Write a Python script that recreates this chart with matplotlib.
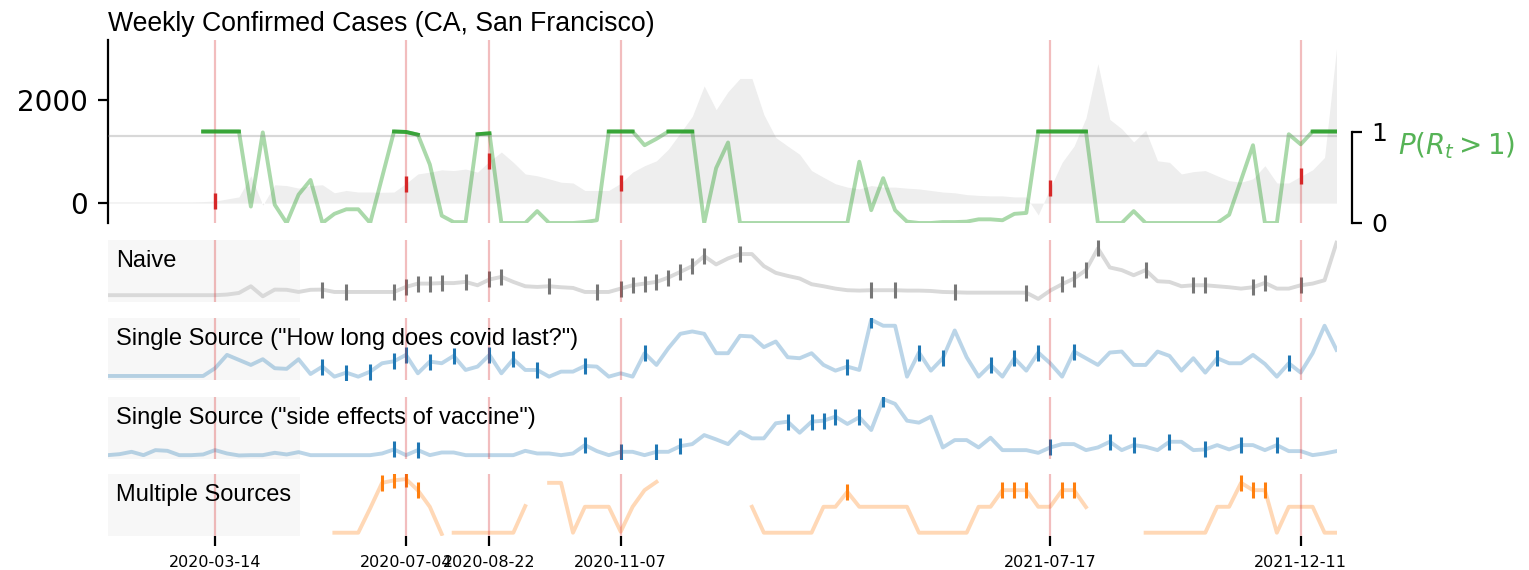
import numpy as np
import pandas as pd
import matplotlib
matplotlib.use("Agg")
import matplotlib.pyplot as plt
from matplotlib.patches import Rectangle

# ---------------- data ----------------
start_date = "2020-01-11"
n_weeks = 104
alert_dates = ["2020-03-14", "2020-07-04", "2020-08-22", "2020-11-07", "2021-07-17", "2021-12-11"]

cases = [25, 25, 25, 25, 25, 25, 25, 25, 30, 40,
         80, 120, 530, -40, 355, 340, 290, 340, 355, 200,
         245, 215, 215, 210, 215, 380, 565, 600, 645, 630,
         660, 600, 810, 990, 790, 565, 530, 470, 405, 390,
         245, 245, 245, 385, 600, 725, 820, 1045, 1360, 1680,
         2270, 1810, 2160, 2415, 2415, 1715, 1270, 1105, 945, 630,
         500, 375, 310, 275, 340, 310, 310, 290, 275, 245,
         215, 200, 165, 150, 140, 140, 120, 120, -230, 290,
         790, 1105, 1650, 2700, 1620, 1440, 1185, 1410, 820, 790,
         565, 610, 630, 530, 435, 405, 470, 725, 390, 390,
         520, 645, 885, 2990]

p_rt = [None, None, None, None, None, None, None, None, 1.0, 1.0,
        1.0, 1.0, 0.18, 0.99, 0.2, 0.0, 0.31, 0.47, 0.0, 0.1,
        0.15, 0.15, 0.0, 0.5, 1.0, 0.995, 0.965, 0.64, 0.08, 0.01,
        0.01, 0.97, 0.98, 0.0, 0.0, 0.0, 0.13, 0.0, 0.0, 0.0,
        0.01, 0.03, 1.0, 1.0, 1.0, 0.85, 0.92, 1.0, 1.0, 1.0,
        0.0, 0.6, 0.88, 0.0, 0.0, 0.0, 0.0, 0.0, 0.0, 0.0,
        0.0, 0.0, 0.0, 0.67, 0.14, 0.49, 0.14, 0.015, 0.0, 0.0,
        0.01, 0.01, 0.015, 0.04, 0.04, 0.03, 0.1, 0.11, 1.0, 1.0,
        1.0, 1.0, 1.0, 0.0, 0.0, 0.0, 0.13, 0.0, 0.0, 0.0,
        0.0, 0.0, 0.0, 0.0, 0.09, 0.47, 0.85, 0.0, 0.0, 0.97,
        0.86, 1.0, 1.0, 1.0]
p_threshold = 0.95

naive = [11, 11, 11, 11, 11, 11, 11, 11, 11, 11,
         12, 14.6, 25.4, 9.2, 20, 19.7, 16.2, 19.7, 20, 16.2,
         16.2, 16.2, 16.2, 16.2, 16.2, 24.3, 29.7, 29.7, 30.5, 30.5,
         32.4, 27, 36.3, 40.5, 32.4, 25.4, 24.3, 25.4, 23.8, 22.7,
         16.2, 16.2, 16.2, 21.6, 27, 29.7, 32.4, 39.5, 48.6, 57.9,
         74, 60.6, 70.3, 77.3, 77.3, 57.9, 47, 42.1, 37.9, 28.7,
         25.4, 21.6, 19, 18.4, 19, 19, 19, 18.4, 18.4, 17.8,
         16.2, 15.7, 15.1, 15.1, 15.1, 15.1, 15.1, 15.1, 5, 18.4,
         28.7, 37.9, 51.4, 86.5, 55.7, 51.4, 43.2, 51.4, 33.5, 32.4,
         25.4, 27, 27, 25.4, 23.8, 21.6, 23.8, 30.8, 21.6, 21.6,
         27, 29.7, 35.1, 95.6]
naive_marks = [18, 20, 24, 25, 26, 27, 28, 30, 32, 33, 37, 41, 43, 44, 45, 46, 47, 48,
               49, 50, 53, 64, 66, 71, 77, 80, 81, 82, 83, 87, 91, 92, 96, 97, 100]

covid_last = [6.5, 6.5, 6.5, 6.5, 6.5, 6.5, 6.5, 6.5, 6.5, 19,
              40.5, 32.4, 24.3, 33.5, 19, 18, 33.5, 9.7, 21.6, 5.4,
              11.9, 5.4, 13.5, 27, 30.2, 40.5, 10.8, 29.7, 27, 38.9,
              16.2, 21.6, 40.5, 10.8, 33.5, 16.2, 16.2, 5.4, 13.5, 13.5,
              22.7, 21.6, 5.4, 10.8, 5.4, 43.2, 24.3, 51.4, 74.5, 78.3,
              74.5, 43.2, 43.2, 71.3, 70.2, 53, 62.1, 36.7, 35.1, 43.2,
              24.3, 15.1, 21.6, 16.2, 97.2, 87.5, 87.5, 5.4, 44.3, 15.1,
              35.1, 79.9, 36.7, 5.4, 24.3, 5.4, 35.1, 15.1, 44.3, 27,
              5.4, 45.9, 35.1, 24.3, 44.3, 45.9, 24.3, 24.3, 45.9, 38.9,
              15.1, 35.1, 11.9, 35.1, 27, 27, 40.5, 25.9, 5.4, 27,
              11.9, 43.2, 87.5, 48.6]
covid_last_marks = [18, 20, 22, 24, 25, 27, 29, 32, 34, 36, 40, 45, 62, 64, 68, 70,
                    74, 76, 78, 81, 93, 99]

vaccine = [5.4, 7, 10.8, 5.4, 13.5, 12.4, 5.4, 5.4, 6.5, 13.5,
           8.1, 4.9, 5.4, 5.4, 9.2, 6.5, 10.3, 5.4, 5.4, 5.4,
           5.4, 5.4, 5.4, 8.1, 14.6, 5.4, 13.5, 5.4, 9.7, 9.7,
           5.4, 5.4, 5.4, 5.4, 5.4, 12.4, 8.1, 8.1, 5.4, 8.1,
           21.6, 12, 5.4, 10.8, 10.8, 5.4, 10.8, 10.8, 20, 23.2,
           37.8, 30.8, 23.2, 43.2, 32.5, 32.5, 56.8, 59.4, 41.6, 59.4,
           61, 67.5, 55.7, 66.5, 45.9, 95.8, 88.1, 61, 57.8, 67.5,
           17.8, 29.7, 29.7, 17.8, 33.5, 13.5, 13.5, 13.5, 9.1, 17.8,
           23.2, 23.2, 13.5, 17.8, 27, 13.5, 21.6, 18.9, 13.5, 27,
           27, 13.5, 14.6, 21.6, 14.6, 21.6, 21.6, 13.5, 21.6, 11.9,
           11.9, 5.4, 8.1, 11.9]
vaccine_marks = [24, 26, 40, 43, 46, 48, 57, 59, 60, 61, 63, 65, 79, 84, 86, 89, 92, 95, 98]

multi = [None, None, None, None, None, None, None, None, None, None,
         None, None, None, None, None, None, None, None, None, 4.8,
         4.8, 4.8, 44, 85, 89, 91, 73, 46.5, 2.7, 4.8,
         4.8, 4.8, 4.8, 4.8, 4.8, 47.6, None, 85, 85, 4.8,
         46.5, 46.5, 46.5, 6.4, 46.5, 73.2, 86.5, None, None, None,
         None, None, None, None, 46.5, 4.8, 4.8, 4.8, 4.8, 4.8,
         46.5, 46.5, 70.5, 46.5, 46.5, 46.5, 46.5, 46.5, 4.8, 4.8,
         4.8, 4.8, 4.8, 46.5, 46.5, 73.2, 73.2, 73.2, 46.5, 46.5,
         73.2, 73.2, 46, None, None, None, None, 4.8, 4.8, 4.8,
         4.8, 4.8, 4.8, 46.5, 46.5, 85, 73.2, 73.2, 4.8, 46.5,
         46.5, 46.5, 4.8, 4.8]
multi_breaks = [29]
multi_marks = [23, 24, 25, 26, 62, 75, 76, 77, 80, 81, 95, 96, 97]

panel_labels = ["Naive", 'Single Source ("How long does covid last?")',
                'Single Source ("side effects of vaccine")', "Multiple Sources"]
title_text = "Weekly Confirmed Cases (CA, San Francisco)"

# ---------------- figure ----------------
W, H, DPI = 1529, 570, 200
fig = plt.figure(figsize=(W / DPI, H / DPI), dpi=DPI)
dates = pd.date_range(start_date, periods=n_weeks, freq="7D")
alerts = pd.to_datetime(alert_dates)
alert_idx = [dates.get_loc(a) for a in alerts]

X0, X1 = 107.7, 1336.5


def px_axes(top, bottom):
    return fig.add_axes([X0 / W, 1 - bottom / H, (X1 - X0) / W, (bottom - top) / H])


red_kw = dict(color="tab:red", alpha=0.3, lw=0.8)

# top panel
ax = px_axes(40, 223)
cases_a = np.array(cases, dtype=float)
ax.fill_between(dates, cases_a, 0, color="#eeeeee", lw=0, zorder=0)
for a in alerts:
    ax.axvline(a, zorder=1, **red_kw)
ax.plot(dates[alert_idx], cases_a[alert_idx], "|", color="tab:red", ms=6, mew=1.2, zorder=2)
ax.set_xlim(dates[0], dates[-1])
ax.set_ylim(-385, 3160)
ax.set_yticks([0, 2000])
ax.tick_params(axis="y", labelsize=10)
ax.tick_params(axis="x", bottom=False, labelbottom=False)
for s in ["top", "right", "bottom"]:
    ax.spines[s].set_visible(False)

ax2 = ax.twinx()
p = np.array(p_rt, dtype=float)
ax2.plot(dates, p, color="tab:green", alpha=0.4, lw=1.4)
ax2.plot(dates, np.where(p >= p_threshold, p, np.nan), color="tab:green", lw=1.4, alpha=0.9)
ax2.axhline(p_threshold, color="gray", alpha=0.3, lw=0.8)
ax2.set_ylim(0, 2)
ax2.set_xlim(dates[0], dates[-1])
ax2.set_yticks([0, 1])
ax2.tick_params(axis="y", labelsize=9)
for s in ["top", "left", "bottom"]:
    ax2.spines[s].set_visible(False)
ax2.spines["right"].set_bounds(0, 1)
ax2.spines["right"].set_position(("outward", 5.4))

fig.text(1398 / W, 1 - 154 / H, r"$P(R_t > 1)$", color="tab:green", alpha=0.8,
         fontsize=10, va="baseline", ha="left")
fig.text(108 / W, 1 - 31 / H, title_text, fontsize=9.6, family="Liberation Sans",
         va="baseline", ha="left")

# lower panels
panels = [
    (240, 302, naive, naive_marks, "#d9d9d9", "#777777", None),
    (318, 380, covid_last, covid_last_marks, "tab:blue", "tab:blue", 0.3),
    (396.5, 458.5, vaccine, vaccine_marks, "tab:blue", "tab:blue", 0.3),
    (473.5, 535.7, multi, multi_marks, "tab:orange", "tab:orange", 0.3),
]
for k, (top, bot, vals, marks, lc, mc, la) in enumerate(panels):
    a = px_axes(top, bot)
    v = np.array(vals, dtype=float)
    a.add_patch(Rectangle((0, 0), 0.1566, 1, transform=a.transAxes, color="#f7f7f7", lw=0, zorder=0))
    if k == 3:
        idx = np.arange(n_weeks)
        seg = np.cumsum(np.isnan(v) | np.isin(idx, multi_breaks))
        for sid in np.unique(seg[~np.isnan(v)]):
            m = (seg == sid) & ~np.isnan(v)
            a.plot(dates[m], v[m], color=lc, alpha=la, lw=1.4, zorder=1)
    else:
        a.plot(dates, v, color=lc, alpha=la, lw=1.4, zorder=1)
    a.plot(dates[marks], v[marks], "|", color=mc, ms=6, mew=1.1, zorder=2)
    for d in alerts:
        a.axvline(d, zorder=3, **red_kw)
    a.text(0.007, 0.835, panel_labels[k], transform=a.transAxes, va="top", ha="left",
           fontsize=8.5, family="Liberation Sans", zorder=4)
    a.set_xlim(dates[0], dates[-1])
    a.set_ylim(0, 100)
    a.set_yticks([])
    for s in a.spines.values():
        s.set_visible(False)
    if k == 3:
        a.set_xticks(alerts)
        a.set_xticklabels([d.strftime("%Y-%m-%d") for d in alerts], fontsize="xx-small")
    else:
        a.set_xticks([])

fig.savefig("out.png", dpi=DPI)
